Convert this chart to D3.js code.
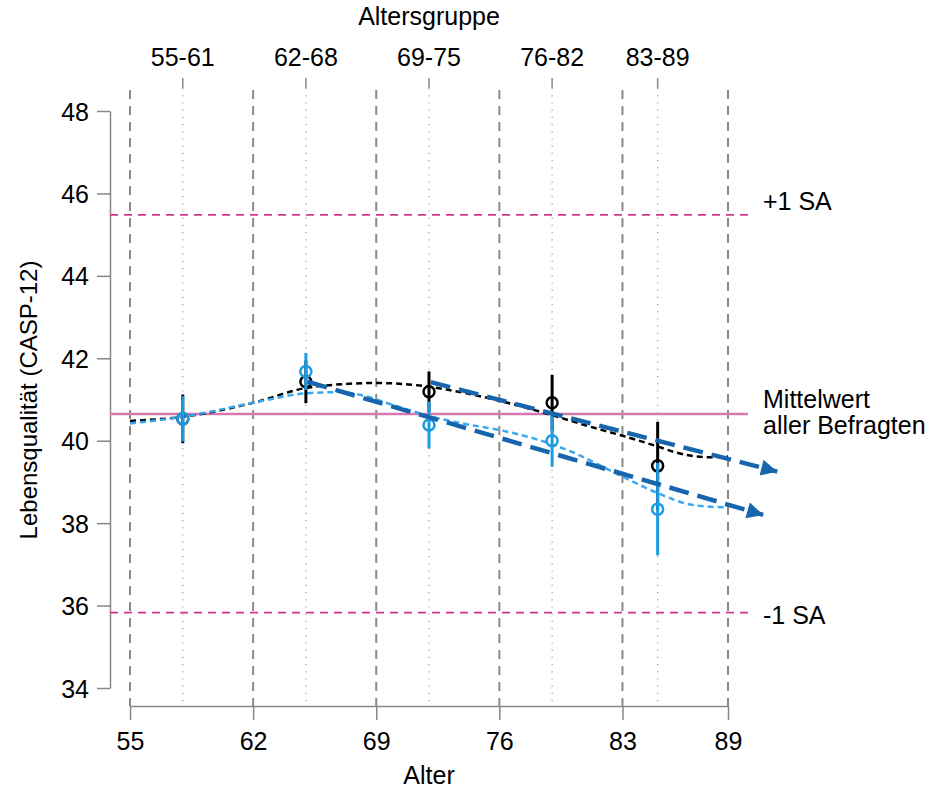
<!DOCTYPE html>
<html>
<head>
<meta charset="utf-8">
<script src="https://d3js.org/d3.v7.min.js"></script>
<style>
    body { margin: 0; background: #fff; font-family: "Liberation Sans", Arial, sans-serif; }
    .axis path, .axis line { stroke: #888; stroke-width: 1.5px; }
    .axis text { font-size: 25px; fill: #000; font-family: "Liberation Sans", Arial, sans-serif; }
    .lbl { font-size: 25px; fill: #000; }
</style>
</head>
<body>
<script>
// ---- data ----
var ageTicks = [55, 62, 69, 76, 83, 89];
var yTicks = [34, 36, 38, 40, 42, 44, 46, 48];
var groupLabels = ["55-61", "62-68", "69-75", "76-82", "83-89"];
var groupAges = [58, 65, 72, 79, 85];

// group means with confidence bars
var blackMean = [40.53, 41.43, 41.19, 40.92, 39.39];
var blackErr  = [0.59, 0.52, 0.49, 0.68, 1.07];
var blueMean  = [40.53, 41.68, 40.38, 40.00, 38.34];
var blueErr   = [0.55, 0.45, 0.57, 0.63, 1.12];

// smoothed curves by age
var blackCurveAge = [55, 58, 62, 65, 67, 69, 71, 72, 74, 76, 79, 81, 83, 85, 86, 87, 88, 89];
var blackCurveVal = [40.48, 40.58, 40.92, 41.28, 41.37, 41.40, 41.36, 41.31, 41.16, 40.97, 40.62, 40.36, 40.12, 39.86, 39.72, 39.63, 39.60, 39.62];
var blueCurveAge = [55, 58, 62, 65, 67, 68, 70, 72, 74, 76, 78, 80, 83, 85, 87, 89];
var blueCurveVal = [40.42, 40.58, 40.92, 41.15, 41.18, 41.12, 40.86, 40.60, 40.41, 40.26, 40.05, 39.75, 39.13, 38.73, 38.44, 38.38];

// trend arrows [start, end] as [age, value]
var trendUpper = [[72.1, 41.42], [91.8, 39.25]];
var trendLower = [[65.1, 41.43], [91.0, 38.20]];

// reference lines
var meanAll = 40.65;
var plusSD = 45.48;
var minusSD = 35.83;

// ---- layout ----
var W = 933, H = 789;
var svg = d3.select("body").append("svg").attr("width", W).attr("height", H);

var x = d3.scaleLinear().domain([55, 89]).range([130, 728]);
var y = d3.scaleLinear().domain([34, 48]).range([688, 111]);

var gridTop = 90, axisY = 706, axisX = 110;

// vertical dashed lines at age ticks
svg.selectAll(".vgrid").data(ageTicks).enter().append("line")
    .attr("x1", d => x(d)).attr("x2", d => x(d))
    .attr("y1", gridTop).attr("y2", axisY)
    .attr("stroke", "#8a8a8a").attr("stroke-width", 2)
    .attr("stroke-dasharray", "9 7");

// dotted lines at group centers
svg.selectAll(".vdot").data(groupAges).enter().append("line")
    .attr("x1", d => x(d)).attr("x2", d => x(d))
    .attr("y1", 88).attr("y2", axisY)
    .attr("stroke", "#999").attr("stroke-width", 1.2)
    .attr("stroke-dasharray", "1.2 6");

// top ticks
svg.selectAll(".ttick").data(groupAges).enter().append("line")
    .attr("x1", d => x(d)).attr("x2", d => x(d))
    .attr("y1", 78).attr("y2", 88)
    .attr("stroke", "#888").attr("stroke-width", 1.5);

svg.selectAll(".tlab").data(groupLabels).enter().append("text")
    .attr("class", "lbl")
    .attr("x", (d, i) => x(groupAges[i])).attr("y", 66)
    .attr("text-anchor", "middle").text(d => d);

svg.append("text").attr("class", "lbl")
    .attr("x", 429).attr("y", 25).attr("text-anchor", "middle")
    .text("Altersgruppe");

// axes
svg.append("g").attr("class", "axis")
    .attr("transform", "translate(" + axisX + ",0)")
    .call(d3.axisLeft(y).tickValues(yTicks).tickSize(13).tickSizeOuter(0).tickPadding(8).tickFormat(d3.format("d")))
    .call(g => g.selectAll("text").attr("dy", "0.36em"));

svg.append("g").attr("class", "axis")
    .attr("transform", "translate(0," + axisY + ")")
    .call(d3.axisBottom(x).tickValues(ageTicks).tickSize(14).tickSizeOuter(0).tickPadding(12).tickFormat(d3.format("d")));

svg.append("text").attr("class", "lbl")
    .attr("x", 429).attr("y", 784).attr("text-anchor", "middle").text("Alter");

svg.append("text").attr("class", "lbl")
    .style("font-size", "24px")
    .attr("transform", "translate(37,400) rotate(-90)")
    .attr("text-anchor", "middle").text("Lebensqualität (CASP-12)");

// horizontal reference lines
var hx1 = axisX, hx2 = 748;
[plusSD, minusSD].forEach(function (v) {
    svg.append("line")
        .attr("x1", hx1).attr("x2", hx2).attr("y1", y(v)).attr("y2", y(v))
        .attr("stroke", "#d0378e").attr("stroke-width", 1.6)
        .attr("stroke-dasharray", "8 6");
});
svg.append("line")
    .attr("x1", hx1).attr("x2", hx2).attr("y1", y(meanAll)).attr("y2", y(meanAll))
    .attr("stroke", "#d779b0").attr("stroke-width", 2.5);

svg.append("text").attr("class", "lbl").attr("x", 763).attr("y", y(plusSD) - 5).text("+1 SA");
svg.append("text").attr("class", "lbl").attr("x", 763).attr("y", y(minusSD) + 11).text("-1 SA");
svg.append("text").attr("class", "lbl").attr("x", 763).attr("y", 408).text("Mittelwert");
svg.append("text").attr("class", "lbl").attr("x", 763).attr("y", 434).text("aller Befragten");

// smoothed curves
var line = d3.line().x(d => x(d[0])).y(d => y(d[1])).curve(d3.curveMonotoneX);
svg.append("path")
    .attr("d", line(blackCurveAge.map((a, i) => [a, blackCurveVal[i]])))
    .attr("fill", "none").attr("stroke", "#000").attr("stroke-width", 2.5)
    .attr("stroke-dasharray", "6 4");
svg.append("path")
    .attr("d", line(blueCurveAge.map((a, i) => [a, blueCurveVal[i]])))
    .attr("fill", "none").attr("stroke", "#3aa8ee").attr("stroke-width", 2.5)
    .attr("stroke-dasharray", "6 4");

// error bars and points
function drawGroup(means, errs, color) {
    svg.selectAll(null).data(means).enter().append("line")
        .attr("x1", (d, i) => x(groupAges[i])).attr("x2", (d, i) => x(groupAges[i]))
        .attr("y1", (d, i) => y(d + errs[i])).attr("y2", (d, i) => y(d - errs[i]))
        .attr("stroke", color).attr("stroke-width", 3);
    svg.selectAll(null).data(means).enter().append("circle")
        .attr("cx", (d, i) => x(groupAges[i])).attr("cy", d => y(d))
        .attr("r", 5.5).attr("fill", "none")
        .attr("stroke", color).attr("stroke-width", 2.5);
}
drawGroup(blackMean, blackErr, "#000");
drawGroup(blueMean, blueErr, "#1a9be3");

// trend arrows
svg.append("defs").append("marker")
    .attr("id", "arrow").attr("viewBox", "0 0 10 10")
    .attr("refX", 10).attr("refY", 5)
    .attr("markerWidth", 4.4).attr("markerHeight", 3.6)
    .attr("markerUnits", "strokeWidth")
    .attr("orient", "auto")
    .append("path").attr("d", "M0,0 L10,5 L0,10 Z").attr("fill", "#1766ad");

[trendUpper, trendLower].forEach(function (t) {
    svg.append("line")
        .attr("x1", x(t[0][0])).attr("y1", y(t[0][1]))
        .attr("x2", x(t[1][0])).attr("y2", y(t[1][1]))
        .attr("stroke", "#1766ad").attr("stroke-width", 4.5)
        .attr("stroke-dasharray", "20 9")
        .attr("marker-end", "url(#arrow)");
});
</script>
</body>
</html>
